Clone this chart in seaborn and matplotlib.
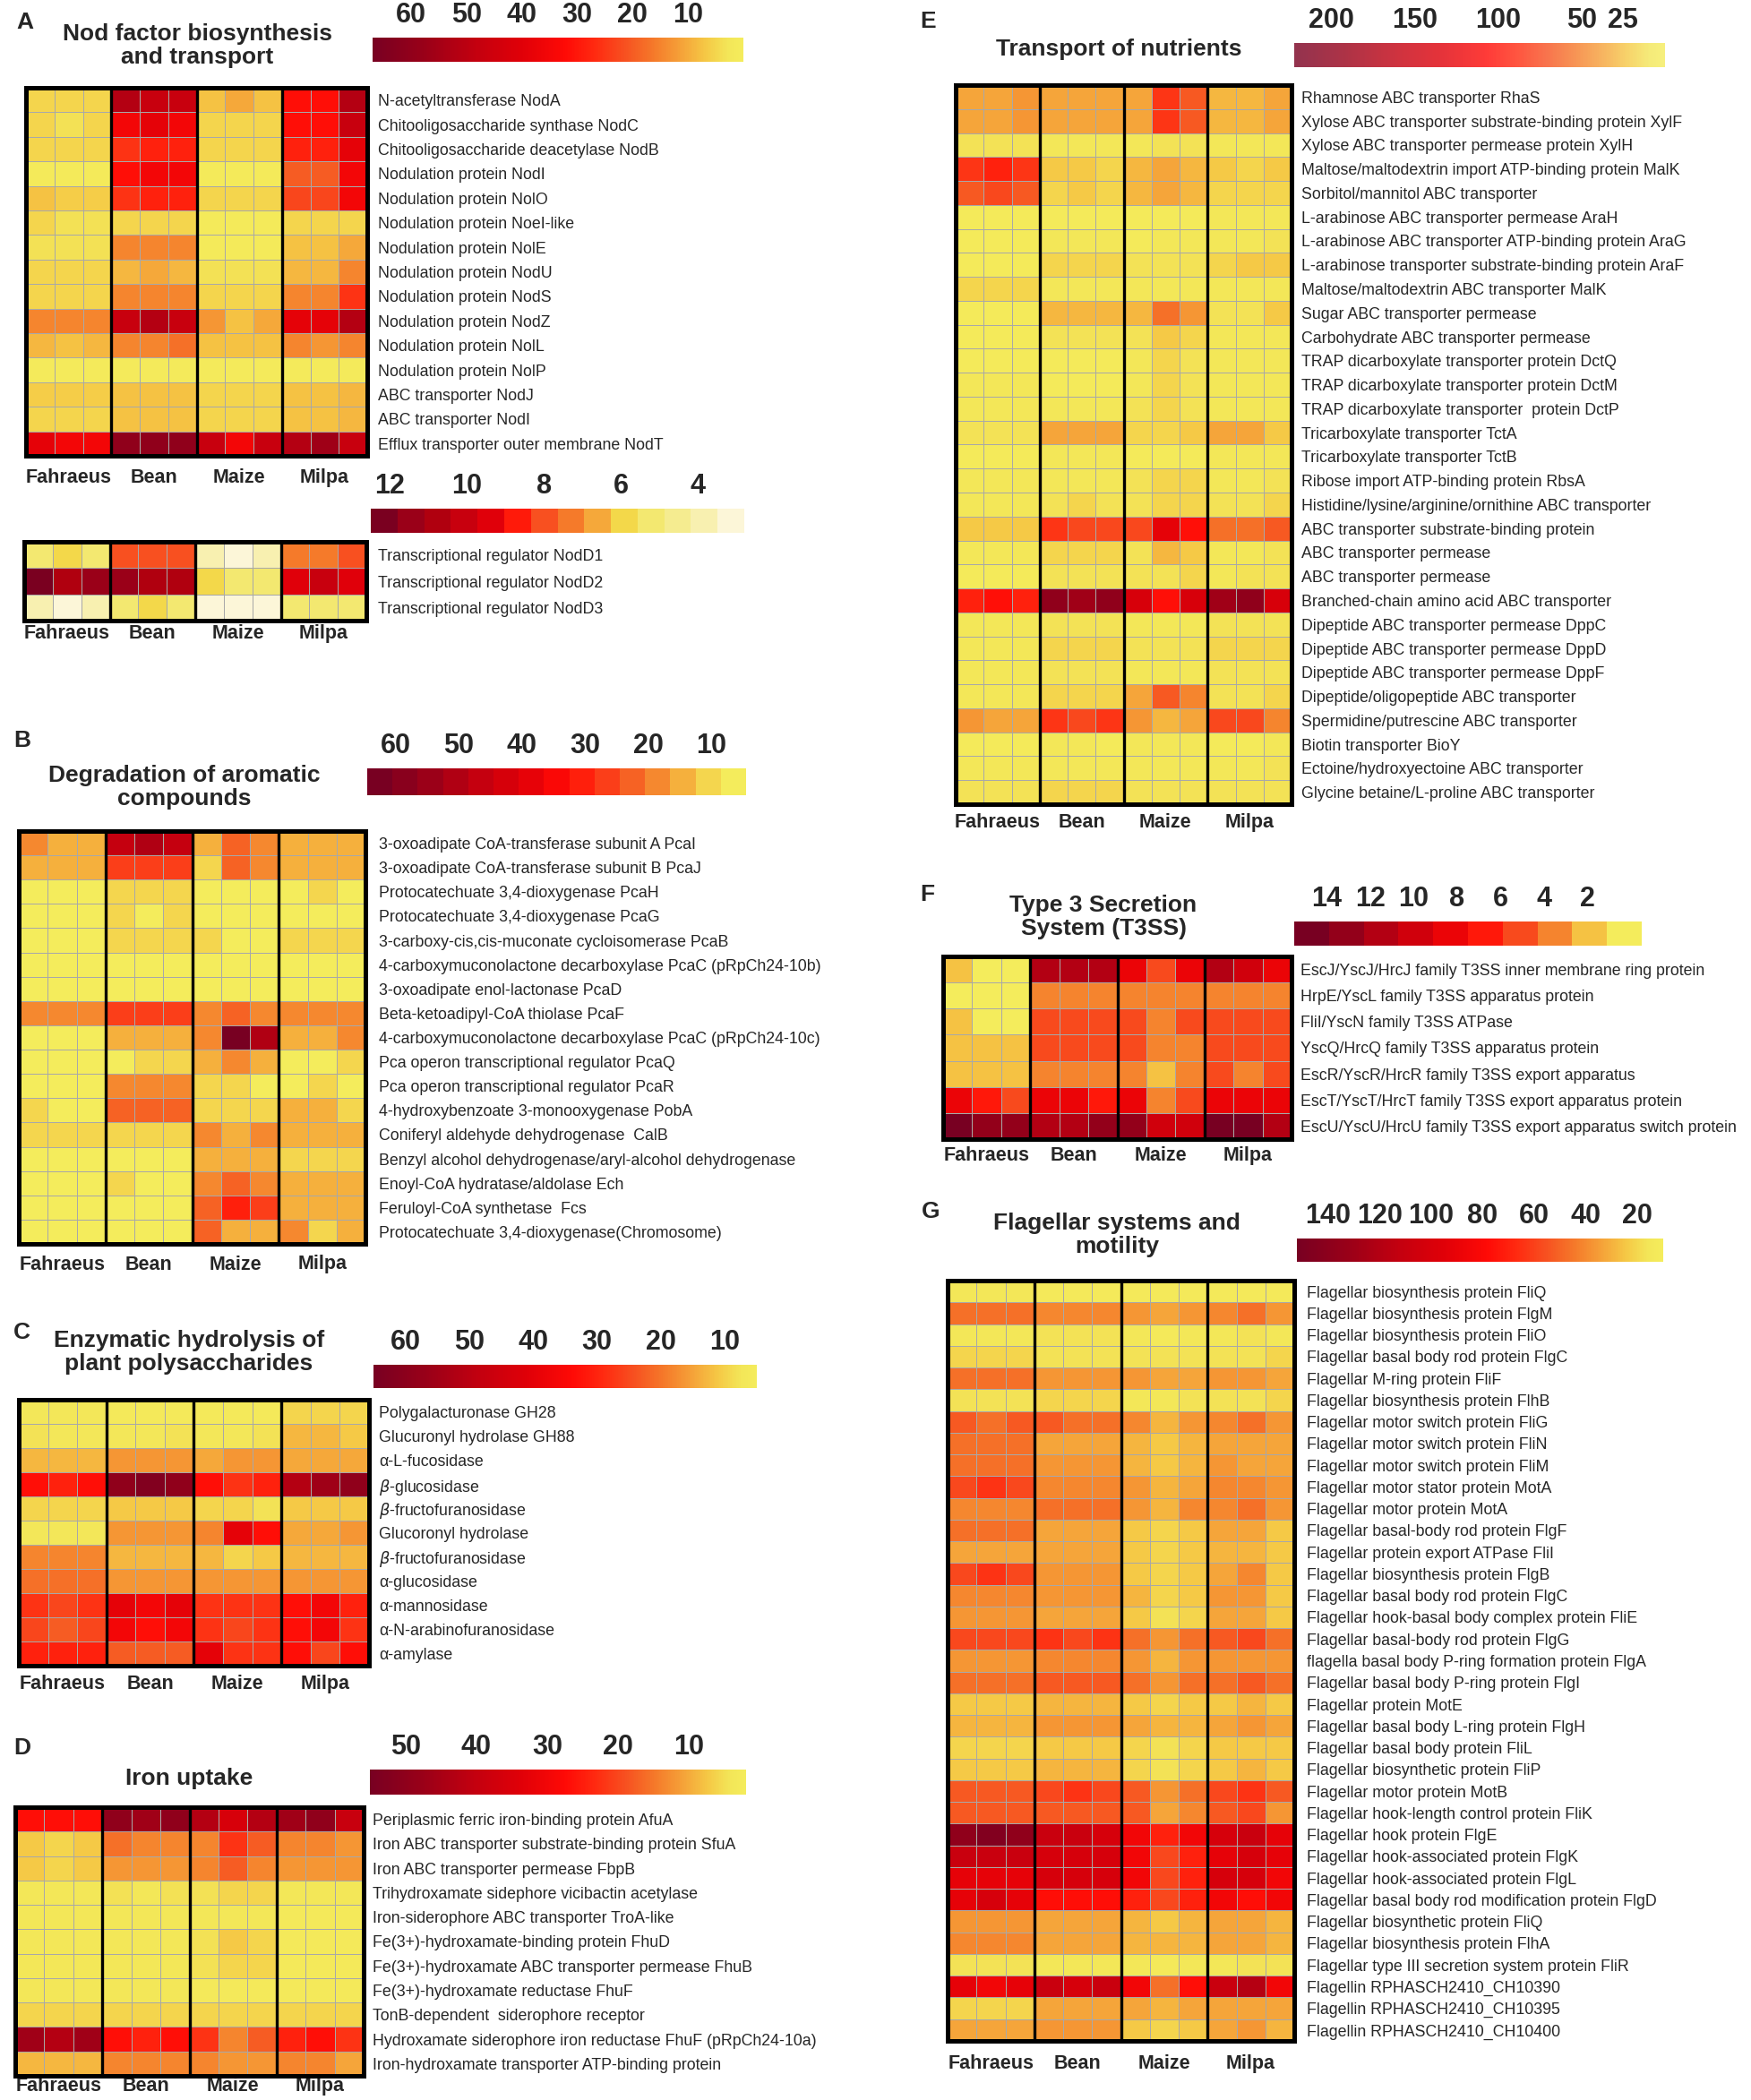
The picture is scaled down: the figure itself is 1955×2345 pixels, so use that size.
import numpy as np
import seaborn as sns
import matplotlib.pyplot as plt
from matplotlib.colors import LinearSegmentedColormap, ListedColormap

groups = ["Fahraeus", "Bean", "Maize", "Milpa"]

# A - Nod factor biosynthesis and transport
nod_rows = ["N-acetyltransferase NodA", "Chitooligosaccharide synthase NodC",
            "Chitooligosaccharide deacetylase NodB", "Nodulation protein NodI",
            "Nodulation protein NolO", "Nodulation protein NoeI-like", "Nodulation protein NolE",
            "Nodulation protein NodU", "Nodulation protein NodS", "Nodulation protein NodZ",
            "Nodulation protein NolL", "Nodulation protein NolP", "ABC transporter NodJ",
            "ABC transporter NodI", "Efflux transporter outer membrane NodT"]
nod_vals = [
    [5.0, 5.0, 5.0, 51.6, 46.9, 46.9, 7.5, 10.7, 7.5, 31.5, 31.5, 51.6],
    [5.0, 3.6, 5.0, 35.2, 38.9, 35.2, 5.0, 5.0, 5.0, 31.5, 31.5, 46.9],
    [5.0, 5.0, 5.0, 25.5, 28.5, 28.5, 5.0, 5.0, 5.0, 28.5, 28.5, 38.9],
    [1.3, 1.3, 1.3, 31.5, 35.2, 35.2, 1.3, 1.3, 1.3, 20.1, 20.1, 35.2],
    [7.5, 6.2, 6.2, 25.5, 28.5, 28.5, 5.0, 5.0, 5.0, 22.8, 22.8, 35.2],
    [5.0, 3.6, 3.6, 5.0, 5.0, 5.0, 1.3, 1.3, 1.3, 5.0, 5.0, 5.0],
    [3.6, 3.6, 3.6, 14.7, 14.7, 14.7, 1.3, 1.3, 1.3, 7.5, 7.5, 10.7],
    [5.0, 5.0, 5.0, 8.7, 10.7, 8.7, 3.6, 3.6, 3.6, 8.7, 8.7, 14.7],
    [5.0, 5.0, 5.0, 14.7, 14.7, 14.7, 5.0, 5.0, 5.0, 14.7, 14.7, 25.5],
    [14.7, 14.7, 14.7, 46.9, 51.6, 46.9, 12.7, 7.5, 10.7, 38.9, 38.9, 51.6],
    [8.7, 7.5, 8.7, 14.7, 14.7, 17.4, 7.5, 7.5, 7.5, 14.7, 12.7, 14.7],
    [1.0, 1.0, 1.0, 0.8, 0.8, 0.8, 1.0, 1.0, 1.0, 0.8, 0.8, 0.8],
    [6.2, 6.2, 6.2, 7.5, 7.5, 7.5, 5.0, 5.0, 5.0, 7.5, 7.5, 8.7],
    [5.0, 5.0, 5.0, 7.5, 7.5, 7.5, 5.0, 5.0, 5.0, 7.5, 7.5, 8.7],
    [38.9, 35.2, 35.2, 60.3, 60.3, 60.3, 46.9, 35.2, 46.9, 51.6, 56.3, 46.9],
]

nodd_rows = ["Transcriptional regulator NodD1", "Transcriptional regulator NodD2",
             "Transcriptional regulator NodD3"]
nodd_vals = [
    [5.23, 5.92, 5.23, 8.0, 8.0, 8.0, 3.84, 3.15, 3.84, 7.3, 7.3, 8.0],
    [12.15, 10.77, 11.46, 11.46, 10.77, 10.77, 5.92, 5.23, 5.23, 9.38, 10.07, 9.38],
    [3.84, 3.15, 3.84, 5.23, 5.92, 5.23, 3.15, 2.9, 3.15, 5.23, 5.23, 5.23],
]

# B - Degradation of aromatic compounds
arom_rows = ["3-oxoadipate CoA-transferase subunit A PcaI",
             "3-oxoadipate CoA-transferase subunit B PcaJ",
             "Protocatechuate 3,4-dioxygenase PcaH", "Protocatechuate 3,4-dioxygenase PcaG",
             "3-carboxy-cis,cis-muconate cycloisomerase PcaB",
             "4-carboxymuconolactone decarboxylase PcaC (pRpCh24-10b)",
             "3-oxoadipate enol-lactonase PcaD", "Beta-ketoadipyl-CoA thiolase PcaF",
             "4-carboxymuconolactone decarboxylase PcaC (pRpCh24-10c)",
             "Pca operon transcriptional regulator PcaQ",
             "Pca operon transcriptional regulator PcaR",
             "4-hydroxybenzoate 3-monooxygenase PobA", "Coniferyl aldehyde dehydrogenase  CalB",
             "Benzyl alcohol dehydrogenase/aryl-alcohol dehydrogenase",
             "Enoyl-CoA hydratase/aldolase Ech", "Feruloyl-CoA synthetase  Fcs",
             "Protocatechuate 3,4-dioxygenase(Chromosome)"]
arom_vals = [
    [18.5, 14.5, 14.5, 46.5, 50.5, 46.5, 14.5, 22.5, 18.5, 14.5, 14.5, 14.5],
    [14.5, 14.5, 14.5, 26.5, 26.5, 26.5, 10.5, 22.5, 18.5, 14.5, 14.5, 14.5],
    [6.5, 6.5, 6.5, 10.5, 10.5, 10.5, 6.5, 6.5, 6.5, 6.5, 10.5, 6.5],
    [6.5, 6.5, 6.5, 10.5, 6.5, 10.5, 6.5, 6.5, 6.5, 6.5, 6.5, 6.5],
    [6.5, 6.5, 6.5, 10.5, 10.5, 10.5, 10.5, 6.5, 6.5, 10.5, 10.5, 10.5],
    [6.5, 6.5, 6.5, 6.5, 6.5, 6.5, 6.5, 6.5, 6.5, 6.5, 6.5, 6.5],
    [6.5, 6.5, 6.5, 6.5, 6.5, 6.5, 6.5, 6.5, 6.5, 6.5, 6.5, 6.5],
    [18.5, 18.5, 18.5, 26.5, 26.5, 26.5, 18.5, 22.5, 18.5, 18.5, 18.5, 18.5],
    [6.5, 6.5, 6.5, 14.5, 14.5, 14.5, 18.5, 62.5, 50.5, 14.5, 14.5, 18.5],
    [6.5, 6.5, 6.5, 6.5, 10.5, 10.5, 14.5, 18.5, 14.5, 6.5, 6.5, 10.5],
    [6.5, 6.5, 6.5, 18.5, 18.5, 18.5, 10.5, 10.5, 6.5, 6.5, 10.5, 6.5],
    [10.5, 6.5, 6.5, 22.5, 22.5, 22.5, 10.5, 10.5, 10.5, 14.5, 14.5, 10.5],
    [10.5, 10.5, 10.5, 10.5, 10.5, 10.5, 18.5, 14.5, 18.5, 14.5, 14.5, 14.5],
    [6.5, 6.5, 6.5, 6.5, 6.5, 6.5, 14.5, 14.5, 14.5, 10.5, 10.5, 10.5],
    [6.5, 6.5, 6.5, 10.5, 6.5, 6.5, 18.5, 22.5, 18.5, 14.5, 14.5, 14.5],
    [6.5, 6.5, 6.5, 6.5, 6.5, 6.5, 22.5, 30.5, 26.5, 14.5, 14.5, 14.5],
    [6.5, 6.5, 6.5, 6.5, 6.5, 6.5, 22.5, 14.5, 14.5, 18.5, 10.5, 14.5],
]

# C - Enzymatic hydrolysis of plant polysaccharides
poly_rows = ["Polygalacturonase GH28", "Glucuronyl hydrolase GH88", "α-L-fucosidase",
             r"$\beta$-glucosidase", r"$\beta$-fructofuranosidase", "Glucoronyl hydrolase",
             r"$\beta$-fructofuranosidase", "α-glucosidase", "α-mannosidase",
             "α-N-arabinofuranosidase", "α-amylase"]
poly_vals = [
    [7.1, 7.1, 7.1, 6.2, 6.2, 6.2, 6.2, 6.2, 6.2, 9.5, 9.5, 9.5],
    [8.0, 7.1, 7.1, 7.1, 7.1, 8.0, 7.1, 7.1, 8.0, 12.8, 12.8, 11.0],
    [12.8, 12.8, 12.8, 16.4, 16.4, 16.4, 14.6, 16.4, 16.4, 14.6, 14.6, 14.6],
    [33.2, 30.5, 33.2, 59.0, 62.6, 59.0, 33.2, 27.8, 30.5, 51.2, 55.4, 59.0],
    [9.5, 9.5, 9.5, 11.0, 11.0, 11.0, 9.5, 9.5, 8.0, 11.0, 11.0, 11.0],
    [7.1, 7.1, 7.1, 16.4, 16.4, 16.4, 18.2, 39.8, 33.2, 14.6, 14.6, 16.4],
    [18.2, 18.2, 18.2, 12.8, 12.8, 12.8, 12.8, 9.5, 11.0, 12.8, 12.8, 12.8],
    [20.6, 20.6, 20.6, 16.4, 16.4, 16.4, 16.4, 16.4, 16.4, 16.4, 16.4, 16.4],
    [27.8, 25.4, 27.8, 39.8, 36.5, 39.8, 27.8, 27.8, 27.8, 33.2, 36.5, 30.5],
    [25.4, 23.0, 25.4, 36.5, 33.2, 36.5, 27.8, 25.4, 27.8, 33.2, 36.5, 27.8],
    [30.5, 30.5, 30.5, 23.0, 23.0, 23.0, 39.8, 27.8, 27.8, 33.2, 25.4, 33.2],
]

# D - Iron uptake
iron_rows = ["Periplasmic ferric iron-binding protein AfuA",
             "Iron ABC transporter substrate-binding protein SfuA",
             "Iron ABC transporter permease FbpB",
             "Trihydroxamate sidephore vicibactin acetylase",
             "Iron-siderophore ABC transporter TroA-like",
             "Fe(3+)-hydroxamate-binding protein FhuD",
             "Fe(3+)-hydroxamate ABC transporter permease FhuB",
             "Fe(3+)-hydroxamate reductase FhuF", "TonB-dependent  siderophore receptor",
             "Hydroxamate siderophore iron reductase FhuF (pRpCh24-10a)",
             "Iron-hydroxamate transporter ATP-binding protein"]
iron_vals = [
    [26.9, 26.9, 26.9, 49.7, 46.5, 49.7, 42.8, 35.9, 42.8, 46.5, 49.7, 39.1],
    [7.3, 6.0, 7.3, 15.8, 13.7, 13.7, 13.7, 22.1, 17.9, 13.7, 13.7, 12.1],
    [7.3, 6.0, 7.3, 12.1, 12.1, 12.1, 13.7, 17.9, 13.7, 12.1, 12.1, 12.1],
    [3.9, 3.9, 3.9, 4.7, 3.9, 4.7, 4.7, 6.0, 6.0, 3.9, 3.9, 3.9],
    [3.9, 3.9, 3.9, 3.9, 3.9, 3.9, 3.9, 3.9, 3.9, 3.1, 3.1, 3.1],
    [3.9, 3.9, 3.9, 3.9, 3.9, 3.9, 4.7, 7.3, 6.0, 3.1, 3.1, 3.1],
    [3.9, 3.9, 3.9, 3.9, 3.9, 3.9, 4.7, 6.0, 6.0, 3.1, 3.1, 3.1],
    [3.9, 3.9, 3.9, 3.9, 3.9, 3.9, 3.1, 3.1, 3.1, 3.1, 3.1, 3.1],
    [6.0, 6.0, 6.0, 6.0, 6.0, 6.0, 6.0, 6.0, 6.0, 6.0, 6.0, 6.0],
    [46.5, 42.8, 46.5, 26.9, 24.5, 26.9, 22.1, 13.7, 17.9, 24.5, 26.9, 22.1],
    [8.9, 8.9, 8.9, 13.7, 13.7, 13.7, 13.7, 12.1, 12.1, 13.7, 13.7, 10.5],
]

# E - Transport of nutrients
trans_rows = ["Rhamnose ABC transporter RhaS",
              "Xylose ABC transporter substrate-binding protein XylF",
              "Xylose ABC transporter permease protein XylH",
              "Maltose/maltodextrin import ATP-binding protein MalK",
              "Sorbitol/mannitol ABC transporter", "L-arabinose ABC transporter permease AraH",
              "L-arabinose ABC transporter ATP-binding protein AraG",
              "L-arabinose transporter substrate-binding protein AraF",
              "Maltose/maltodextrin ABC transporter MalK", "Sugar ABC transporter permease",
              "Carbohydrate ABC transporter permease", "TRAP dicarboxylate transporter protein DctQ",
              "TRAP dicarboxylate transporter protein DctM",
              "TRAP dicarboxylate transporter  protein DctP", "Tricarboxylate transporter TctA",
              "Tricarboxylate transporter TctB", "Ribose import ATP-binding protein RbsA",
              "Histidine/lysine/arginine/ornithine ABC transporter",
              "ABC transporter substrate-binding protein", "ABC transporter permease",
              "ABC transporter permease", "Branched-chain amino acid ABC transporter",
              "Dipeptide ABC transporter permease DppC", "Dipeptide ABC transporter permease DppD",
              "Dipeptide ABC transporter permease DppF", "Dipeptide/oligopeptide ABC transporter",
              "Spermidine/putrescine ABC transporter", "Biotin transporter BioY",
              "Ectoine/hydroxyectoine ABC transporter", "Glycine betaine/L-proline ABC transporter"]
trans_vals = [
    [36, 36, 42, 36, 36, 36, 36, 84, 67, 29, 29, 36],
    [36, 36, 42, 36, 36, 36, 36, 84, 67, 29, 29, 36],
    [11, 11, 11, 8, 8, 8, 8, 11, 11, 8, 8, 8],
    [84, 94, 84, 22, 22, 17, 29, 36, 29, 22, 17, 22],
    [67, 75, 67, 17, 22, 17, 29, 36, 29, 17, 17, 17],
    [4, 4, 4, 4, 4, 4, 4, 4, 4, 8, 8, 8],
    [4, 4, 4, 8, 8, 8, 4, 8, 8, 8, 8, 11],
    [4, 4, 4, 17, 17, 17, 11, 11, 11, 17, 22, 22],
    [17, 17, 17, 8, 8, 8, 8, 8, 8, 8, 8, 8],
    [4, 4, 4, 29, 29, 29, 29, 58, 42, 11, 11, 22],
    [4, 4, 4, 11, 11, 11, 11, 22, 17, 8, 8, 8],
    [4, 4, 4, 4, 4, 4, 8, 17, 11, 8, 8, 8],
    [8, 8, 8, 4, 4, 4, 8, 17, 11, 8, 8, 8],
    [8, 8, 8, 8, 8, 8, 11, 17, 11, 8, 8, 8],
    [11, 11, 11, 36, 36, 36, 17, 17, 22, 36, 36, 22],
    [4, 4, 4, 8, 8, 8, 4, 4, 4, 8, 8, 8],
    [8, 8, 8, 8, 8, 8, 11, 17, 17, 8, 8, 11],
    [8, 8, 8, 11, 17, 11, 11, 17, 17, 11, 11, 17],
    [22, 22, 22, 84, 75, 75, 75, 129, 104, 58, 58, 67],
    [8, 8, 8, 17, 17, 17, 11, 29, 22, 8, 8, 11],
    [4, 4, 4, 11, 11, 11, 11, 11, 17, 8, 11, 11],
    [94, 104, 94, 200, 186, 200, 142, 104, 142, 186, 200, 142],
    [8, 8, 8, 11, 11, 11, 8, 8, 8, 11, 11, 11],
    [8, 8, 8, 17, 17, 17, 11, 11, 11, 17, 17, 17],
    [8, 8, 8, 11, 11, 11, 8, 8, 8, 11, 11, 11],
    [8, 8, 8, 17, 17, 17, 36, 67, 49, 11, 11, 17],
    [42, 36, 36, 84, 75, 84, 42, 29, 36, 75, 75, 49],
    [4, 4, 4, 8, 8, 4, 8, 8, 8, 4, 4, 8],
    [8, 8, 8, 8, 8, 8, 8, 8, 8, 8, 8, 11],
    [11, 11, 11, 17, 17, 17, 11, 11, 11, 11, 11, 11],
]

# F - Type 3 secretion system
t3ss_rows = ["EscJ/YscJ/HrcJ family T3SS inner membrane ring protein",
             "HrpE/YscL family T3SS apparatus protein", "FliI/YscN family T3SS ATPase",
             "YscQ/HrcQ family T3SS apparatus protein",
             "EscR/YscR/HrcR family T3SS export apparatus",
             "EscT/YscT/HrcT family T3SS export apparatus protein",
             "EscU/YscU/HrcU family T3SS export apparatus switch protein"]
t3ss_vals = [
    [1.9, 0.3, 0.3, 11.5, 11.5, 11.5, 8.3, 5.1, 8.3, 11.5, 9.9, 8.3],
    [0.3, 0.3, 0.3, 3.5, 3.5, 3.5, 3.5, 3.5, 3.5, 3.5, 3.5, 3.5],
    [1.9, 0.3, 0.3, 5.1, 5.1, 5.1, 5.1, 3.5, 5.1, 5.1, 5.1, 5.1],
    [1.9, 1.9, 1.9, 5.1, 5.1, 5.1, 5.1, 3.5, 3.5, 5.1, 5.1, 5.1],
    [1.9, 1.9, 1.9, 3.5, 3.5, 3.5, 3.5, 1.9, 3.5, 5.1, 3.5, 5.1],
    [8.3, 6.7, 5.1, 8.3, 8.3, 6.7, 8.3, 3.5, 5.1, 8.3, 8.3, 8.3],
    [14.7, 13.1, 13.1, 11.5, 11.5, 13.1, 13.1, 9.9, 9.9, 14.7, 14.7, 11.5],
]

# G - Flagellar systems and motility
flag_rows = ["Flagellar biosynthesis protein FliQ", "Flagellar biosynthesis protein FlgM",
             "Flagellar biosynthesis protein FliO", "Flagellar basal body rod protein FlgC",
             "Flagellar M-ring protein FliF", "Flagellar biosynthesis protein FlhB",
             "Flagellar motor switch protein FliG", "Flagellar motor switch protein FliN",
             "Flagellar motor switch protein FliM", "Flagellar motor stator protein MotA",
             "Flagellar motor protein MotA", "Flagellar basal-body rod protein FlgF",
             "Flagellar protein export ATPase FliI", "Flagellar biosynthesis protein FlgB",
             "Flagellar basal body rod protein FlgC",
             "Flagellar hook-basal body complex protein FliE",
             "Flagellar basal-body rod protein FlgG",
             "flagella basal body P-ring formation protein FlgA",
             "Flagellar basal body P-ring protein FlgI", "Flagellar protein MotE",
             "Flagellar basal body L-ring protein FlgH", "Flagellar basal body protein FliL",
             "Flagellar biosynthetic protein FliP", "Flagellar motor protein MotB",
             "Flagellar hook-length control protein FliK", "Flagellar hook protein FlgE",
             "Flagellar hook-associated protein FlgK", "Flagellar hook-associated protein FlgL",
             "Flagellar basal body rod modification protein FlgD",
             "Flagellar biosynthetic protein FliQ", "Flagellar biosynthesis protein FlhA",
             "Flagellar type III secretion system protein FliR",
             "Flagellin RPHASCH2410_CH10390", "Flagellin RPHASCH2410_CH10395",
             "Flagellin RPHASCH2410_CH10400"]
flag_vals = [
    [15, 15, 15, 13, 13, 13, 13, 13, 13, 13, 13, 13],
    [47, 47, 47, 41, 41, 41, 37, 33, 37, 41, 47, 37],
    [15, 15, 15, 17, 17, 17, 15, 13, 15, 15, 17, 15],
    [21, 21, 21, 17, 17, 17, 17, 17, 17, 17, 17, 21],
    [47, 47, 47, 37, 37, 37, 37, 33, 33, 37, 37, 33],
    [17, 17, 17, 21, 21, 21, 15, 15, 17, 17, 17, 21],
    [53, 47, 53, 53, 47, 47, 41, 29, 37, 41, 47, 37],
    [47, 47, 47, 33, 33, 33, 29, 24, 29, 33, 33, 33],
    [47, 47, 47, 37, 37, 37, 29, 24, 29, 37, 33, 33],
    [58, 64, 58, 41, 41, 41, 37, 29, 33, 41, 41, 37],
    [41, 41, 41, 47, 47, 47, 37, 29, 41, 41, 47, 37],
    [47, 47, 47, 33, 33, 33, 24, 21, 24, 33, 33, 24],
    [33, 33, 33, 33, 33, 33, 24, 21, 24, 29, 29, 24],
    [58, 64, 58, 37, 37, 37, 24, 21, 24, 33, 41, 24],
    [41, 41, 41, 37, 37, 37, 29, 21, 24, 37, 37, 24],
    [37, 37, 37, 33, 33, 33, 24, 17, 21, 33, 33, 24],
    [58, 58, 58, 64, 58, 64, 47, 37, 47, 53, 58, 47],
    [37, 37, 37, 41, 41, 41, 37, 29, 37, 37, 37, 37],
    [47, 47, 47, 53, 53, 53, 47, 37, 47, 47, 53, 47],
    [24, 24, 24, 29, 29, 29, 24, 21, 24, 24, 29, 24],
    [29, 29, 29, 37, 37, 37, 33, 29, 29, 33, 37, 33],
    [21, 21, 21, 24, 24, 24, 21, 17, 21, 24, 24, 24],
    [24, 24, 24, 29, 29, 29, 21, 17, 21, 24, 29, 24],
    [53, 53, 53, 58, 64, 58, 53, 37, 47, 58, 64, 53],
    [53, 53, 53, 53, 53, 53, 53, 33, 41, 53, 58, 37],
    [138, 146, 138, 109, 109, 101, 85, 70, 85, 101, 109, 92],
    [109, 109, 109, 101, 101, 101, 85, 58, 70, 92, 101, 92],
    [92, 92, 92, 101, 101, 101, 85, 58, 70, 101, 101, 85],
    [92, 101, 92, 77, 77, 77, 70, 58, 70, 85, 77, 85],
    [37, 37, 37, 33, 33, 33, 29, 24, 29, 33, 33, 29],
    [41, 41, 41, 33, 33, 33, 29, 29, 29, 33, 33, 29],
    [17, 17, 17, 15, 15, 15, 15, 13, 15, 15, 17, 17],
    [92, 85, 92, 109, 101, 109, 85, 47, 77, 109, 119, 85],
    [21, 21, 21, 33, 33, 33, 33, 29, 33, 33, 33, 33],
    [33, 33, 33, 37, 37, 37, 24, 21, 24, 33, 37, 29],
]

heat = LinearSegmentedColormap.from_list("heat", [
    (0.00, "#f4ec5c"), (0.04, "#f3e658"), (0.10, "#f5c845"), (0.17, "#f5a038"),
    (0.24, "#f57a2a"), (0.32, "#f75020"), (0.40, "#ff2a10"), (0.48, "#ff0a06"),
    (0.60, "#e00008"), (0.72, "#c4000f"), (0.86, "#9a0018"), (1.00, "#780022")])
nodd_cmap = ListedColormap(["#fcf6d8", "#f8f0b0", "#f5ec90", "#f3e870", "#f3d84a", "#f5a83a",
                            "#f57a2a", "#f85020", "#ff1a0a", "#e0000a", "#c8000e", "#b0000f",
                            "#9a0018", "#7a0020"])

W, H = 1955, 2345


def place(fig, x0, y0, x1, y1):
    return fig.add_axes([x0 / W, 1 - y1 / H, (x1 - x0) / W, (y1 - y0) / H])


def panel(fig, rows, vals, cmap, vmin, vmax, ticks, hm_box, cb_box, xpad, ypad, cb_alpha=None):
    ax = place(fig, *hm_box)
    cax = place(fig, *cb_box)
    sns.heatmap(np.array(vals, dtype=float), ax=ax, cmap=cmap, vmin=vmin, vmax=vmax,
                linewidths=0.7, linecolor="#a8a8a8", cbar_ax=cax,
                cbar_kws={"orientation": "horizontal"}, xticklabels=False, yticklabels=False)
    ax.set_xticks([1.5, 4.5, 7.5, 10.5])
    ax.set_xticklabels(groups, fontsize=15.5, fontweight="bold", rotation=0)
    ax.set_yticks(np.arange(len(rows)) + 0.5)
    ax.set_yticklabels(rows, fontsize=12.8, rotation=0)
    ax.yaxis.tick_right()
    ax.tick_params(axis="x", length=0, pad=xpad)
    ax.tick_params(axis="y", length=0, pad=ypad)
    for x in (3, 6, 9):
        ax.axvline(x, color="black", lw=2.4)
    for sp in ax.spines.values():
        sp.set_visible(True)
        sp.set_linewidth(3.6)
        sp.set_color("black")

    cb = ax.collections[0].colorbar
    cb.set_ticks(ticks, labels=[str(t) for t in ticks])
    cb.ax.invert_xaxis()
    cb.ax.xaxis.set_ticks_position("top")
    cb.ax.tick_params(length=0, labelsize=22, pad=7)
    for t in cb.ax.get_xticklabels():
        t.set_fontweight("bold")
    cb.outline.set_visible(False)
    if cb_alpha is not None:
        cb.solids.set_alpha(cb_alpha)
    return ax


sns.set_theme(style="white")
plt.rcParams["font.family"] = ["Liberation Sans", "DejaVu Sans"]

fig = plt.figure(figsize=(W / 100, H / 100), dpi=100)

panel(fig, nod_rows, nod_vals, heat, 0, 67, [60, 50, 40, 30, 20, 10],
      (29, 98, 410, 509), (416, 42, 830, 69), 10, 9)
panel(fig, nodd_rows, nodd_vals, nodd_cmap, 2.8, 12.5, [12, 10, 8, 6, 4],
      (27, 605, 409, 693), (414, 568, 831, 595), 3, 9)
panel(fig, arom_rows, arom_vals, heat.resampled(15), 4.5, 64.5, [60, 50, 40, 30, 20, 10],
      (21, 928, 408, 1389), (410, 858, 833, 888), 9, 11)
panel(fig, poly_rows, poly_vals, heat, 5, 65, [60, 50, 40, 30, 20, 10],
      (21, 1563, 412, 1860), (417, 1524, 845, 1550), 7, 8)
panel(fig, iron_rows, iron_vals, heat, 2, 55, [50, 40, 30, 20, 10],
      (17, 2018, 406, 2318), (413, 1976, 833, 2004), 1, 7)
panel(fig, trans_rows, trans_vals, heat, 0, 222, [200, 150, 100, 50, 25],
      (1067, 95, 1442, 898), (1445, 48, 1859, 75), 7, 8, cb_alpha=0.8)
panel(fig, t3ss_rows, t3ss_vals, heat.resampled(10), -0.5, 15.5, [14, 12, 10, 8, 6, 4, 2],
      (1053, 1068, 1442, 1272), (1445, 1029, 1833, 1056), 6, 7)
panel(fig, flag_rows, flag_vals, heat, 10, 152, [140, 120, 100, 80, 60, 40, 20],
      (1058, 1430, 1445, 2279), (1448, 1383, 1857, 1409), 11, 10)

titles = [
    ("A", 18, 25, "Nod factor biosynthesis\nand transport", 220, 51),
    ("B", 15, 827, "Degradation of aromatic\ncompounds", 206, 879),
    ("C", 15, 1488, "Enzymatic hydrolysis of\nplant polysaccharides", 211, 1510),
    ("D", 15, 1952, "Iron uptake", 211, 1986),
    ("E", 1027, 24, "Transport of nutrients", 1249, 55),
    ("F", 1027, 999, "Type 3 Secretion\nSystem (T3SS)", 1232, 1024),
    ("G", 1029, 1353, "Flagellar systems and\nmotility", 1247, 1379),
]
for letter, lx, ly, title, tx, ty in titles:
    fig.text(lx / W, 1 - ly / H, letter, fontsize=19, fontweight="bold", ha="left", va="center")
    fig.text(tx / W, 1 - ty / H, title, fontsize=19, fontweight="bold", ha="center",
             va="center", linespacing=1.15)

fig.savefig("out.png", dpi=100)
